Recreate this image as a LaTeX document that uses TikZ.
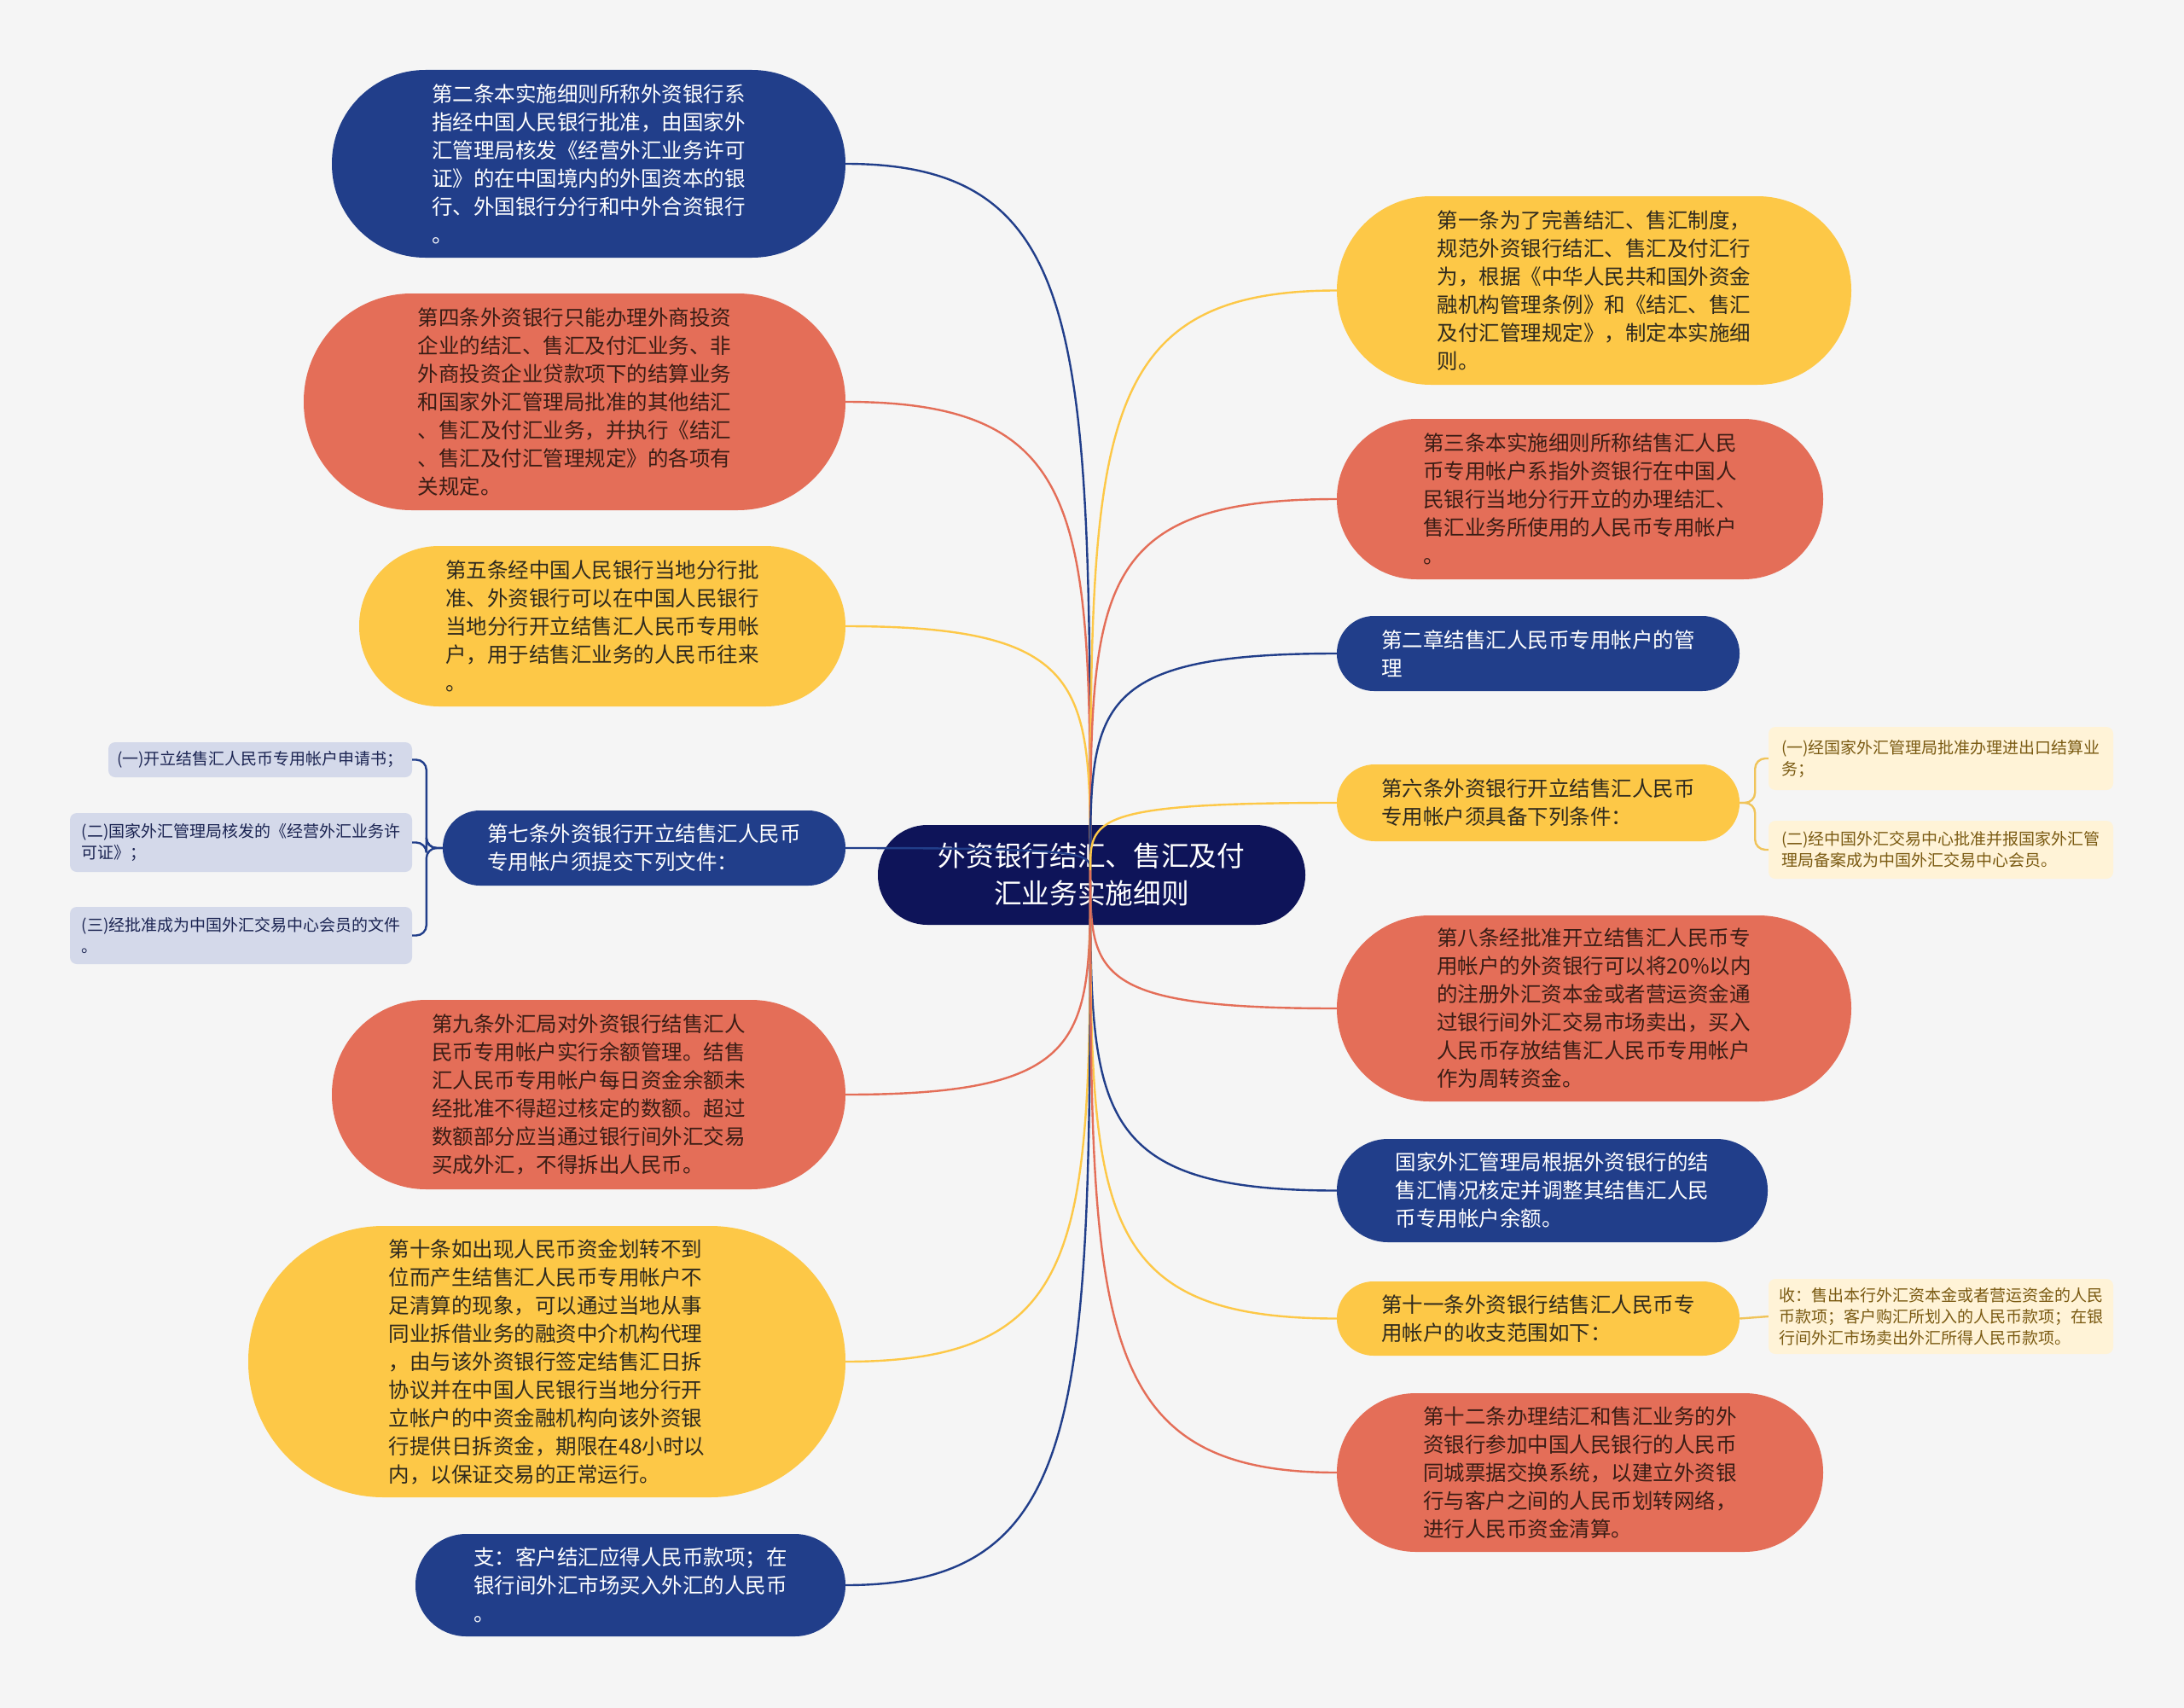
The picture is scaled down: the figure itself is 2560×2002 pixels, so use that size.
\documentclass[tikz,border=0pt]{standalone}
\usepackage{fontspec}
\setmainfont{Noto Sans CJK SC}
\usetikzlibrary{calc}
\definecolor{bgc}{HTML}{F5F5F5}
\definecolor{cblue}{HTML}{213E8A}
\definecolor{croot}{HTML}{0E1459}
\definecolor{cred}{HTML}{E46E58}
\definecolor{cyel}{HTML}{FDC847}
\definecolor{csubb}{HTML}{D4D9EA}
\definecolor{csuby}{HTML}{FFF3D7}
\definecolor{tred}{HTML}{3A1D15}
\definecolor{tyel}{HTML}{2F2A1E}
\definecolor{tsubb}{HTML}{1B2452}
\definecolor{tsuby}{HTML}{7A5A12}
\definecolor{lsuby}{HTML}{F0C45A}
\newcommand\hubconn[2]{%
  \draw[conn,#1] (hub) .. controls ($(hub)!0.75!(hub|-#2)$) and (hub|-#2) .. (#2);}
\begin{document}
\begin{tikzpicture}[x=1pt,y=-1pt,
  pill/.style={rectangle, inner sep=0pt, align=left, font=\fontsize{24.5pt}{33pt}\selectfont},
  bluebox/.style={pill, fill=cblue, text=white},
  redbox/.style={pill, fill=cred, text=tred},
  yelbox/.style={pill, fill=cyel, text=tyel},
  subbox/.style={rectangle, inner sep=0pt, align=left, rounded corners=8pt, font=\fontsize{19pt}{25pt}\selectfont},
  subblue/.style={subbox, fill=csubb, text=tsubb},
  subyel/.style={subbox, fill=csuby, text=tsuby},
  conn/.style={line width=2.4pt},
  subconn/.style={line width=2.4pt, rounded corners=12pt}]
\useasboundingbox (0,0) rectangle (2560,2002);
\fill[bgc] (0,0) rectangle (2560,2002);

% root
\node[rectangle, fill=croot, text=white, align=center, inner sep=0pt,
      minimum width=501pt, minimum height=117pt, rounded corners=58pt,
      font=\fontsize{32.7pt}{44pt}\selectfont] (root) at (1279.5,1025.5)
      {外资银行结汇、售汇及付\\汇业务实施细则};
\coordinate (hub) at (1278,1020);

% left nodes
\node[bluebox, minimum width=602pt, minimum height=220pt, rounded corners=109.5pt] (L1) at (690,192)
{第二条本实施细则所称外资银行系\\指经中国人民银行批准，由国家外\\汇管理局核发《经营外汇业务许可\\证》的在中国境内的外国资本的银\\行、外国银行分行和中外合资银行\\。};
\node[redbox, minimum width=635pt, minimum height=254pt, rounded corners=126.5pt] (L2) at (673.5,471)
{第四条外资银行只能办理外商投资\\企业的结汇、售汇及付汇业务、非\\外商投资企业贷款项下的结算业务\\和国家外汇管理局批准的其他结汇\\、售汇及付汇业务，并执行《结汇\\、售汇及付汇管理规定》的各项有\\关规定。};
\node[yelbox, minimum width=570pt, minimum height=188pt, rounded corners=93.5pt] (L3) at (706,734)
{第五条经中国人民银行当地分行批\\准、外资银行可以在中国人民银行\\当地分行开立结售汇人民币专用帐\\户，用于结售汇业务的人民币往来\\。};
\node[bluebox, minimum width=472pt, minimum height=88pt, rounded corners=43.5pt] (L4) at (755,994)
{第七条外资银行开立结售汇人民币\\专用帐户须提交下列文件：};
\node[redbox, minimum width=602pt, minimum height=222pt, rounded corners=110.5pt] (L5) at (690,1283)
{第九条外汇局对外资银行结售汇人\\民币专用帐户实行余额管理。结售\\汇人民币专用帐户每日资金余额未\\经批准不得超过核定的数额。超过\\数额部分应当通过银行间外汇交易\\买成外汇，不得拆出人民币。};
\node[yelbox, minimum width=700pt, minimum height=318pt, rounded corners=158.5pt] (L6) at (641,1596)
{第十条如出现人民币资金划转不到\\位而产生结售汇人民币专用帐户不\\足清算的现象，可以通过当地从事\\同业拆借业务的融资中介机构代理\\，由与该外资银行签定结售汇日拆\\协议并在中国人民银行当地分行开\\立帐户的中资金融机构向该外资银\\行提供日拆资金，期限在48小时以\\内，以保证交易的正常运行。};
\node[bluebox, minimum width=504pt, minimum height=120pt, rounded corners=59.5pt] (L7) at (739,1858)
{支：客户结汇应得人民币款项；在\\银行间外汇市场买入外汇的人民币\\。};

% right nodes
\node[yelbox, minimum width=603pt, minimum height=221pt, rounded corners=110pt] (R1) at (1868.5,340.5)
{第一条为了完善结汇、售汇制度，\\规范外资银行结汇、售汇及付汇行\\为，根据《中华人民共和国外资金\\融机构管理条例》和《结汇、售汇\\及付汇管理规定》，制定本实施细\\则。};
\node[redbox, minimum width=570pt, minimum height=188pt, rounded corners=93.5pt] (R2) at (1852,585)
{第三条本实施细则所称结售汇人民\\币专用帐户系指外资银行在中国人\\民银行当地分行开立的办理结汇、\\售汇业务所使用的人民币专用帐户\\。};
\node[bluebox, minimum width=472pt, minimum height=88pt, rounded corners=43.5pt] (R3) at (1803,766)
{第二章结售汇人民币专用帐户的管\\理};
\node[yelbox, minimum width=472pt, minimum height=90pt, rounded corners=44.5pt] (R4) at (1803,941)
{第六条外资银行开立结售汇人民币\\专用帐户须具备下列条件：};
\node[redbox, minimum width=603pt, minimum height=218pt, rounded corners=108.5pt] (R5) at (1868.5,1182)
{第八条经批准开立结售汇人民币专\\用帐户的外资银行可以将20\%以内\\的注册外汇资本金或者营运资金通\\过银行间外汇交易市场卖出，买入\\人民币存放结售汇人民币专用帐户\\作为周转资金。};
\node[bluebox, minimum width=505pt, minimum height=121pt, rounded corners=60pt] (R6) at (1819.5,1395.5)
{国家外汇管理局根据外资银行的结\\售汇情况核定并调整其结售汇人民\\币专用帐户余额。};
\node[yelbox, minimum width=472pt, minimum height=87pt, rounded corners=43pt] (R7) at (1803,1545.5)
{第十一条外资银行结售汇人民币专\\用帐户的收支范围如下：};
\node[redbox, minimum width=570pt, minimum height=186pt, rounded corners=92.5pt] (R8) at (1852,1726)
{第十二条办理结汇和售汇业务的外\\资银行参加中国人民银行的人民币\\同城票据交换系统，以建立外资银\\行与客户之间的人民币划转网络，\\进行人民币资金清算。};

% sub nodes
\node[subblue, minimum width=356pt, minimum height=41pt] (La) at (305,890.5)
{(一)开立结售汇人民币专用帐户申请书；};
\node[subblue, minimum width=401pt, minimum height=69pt] (Lb) at (282.5,987.5)
{(二)国家外汇管理局核发的《经营外汇业务许\\可证》；};
\node[subblue, minimum width=401pt, minimum height=67pt] (Lc) at (282.5,1096.5)
{(三)经批准成为中国外汇交易中心会员的文件\\。};
\node[subyel, minimum width=404pt, minimum height=74pt] (Ra) at (2275,889)
{(一)经国家外汇管理局批准办理进出口结算业\\务；};
\node[subyel, minimum width=404pt, minimum height=68pt] (Rb) at (2275,996)
{(二)经中国外汇交易中心批准并报国家外汇管\\理局备案成为中国外汇交易中心会员。};
\node[subyel, minimum width=404pt, minimum height=88pt] (Rc) at (2275,1543)
{收：售出本行外汇资本金或者营运资金的人民\\币款项；客户购汇所划入的人民币款项；在银\\行间外汇市场卖出外汇所得人民币款项。};

% connectors from hub
\hubconn{cblue}{L1.east}
\hubconn{cred}{L2.east}
\hubconn{cyel}{L3.east}
\hubconn{cblue}{L4.east}
\hubconn{cred}{L5.east}
\hubconn{cyel}{L6.east}
\hubconn{cblue}{L7.east}
\hubconn{cyel}{R1.west}
\hubconn{cred}{R2.west}
\hubconn{cblue}{R3.west}
\hubconn{cyel}{R4.west}
\hubconn{cred}{R5.west}
\hubconn{cblue}{R6.west}
\hubconn{cyel}{R7.west}
\hubconn{cred}{R8.west}

% sub connectors
\draw[subconn, cblue] (L4.west) -- ++(-19,0) |- (La.east);
\draw[subconn, cblue] (L4.west) -- ++(-19,0) |- (Lb.east);
\draw[subconn, cblue] (L4.west) -- ++(-19,0) |- (Lc.east);
\draw[subconn, lsuby] (R4.east) -- ++(18,0) |- (Ra.west);
\draw[subconn, lsuby] (R4.east) -- ++(18,0) |- (Rb.west);
\draw[line width=2.4pt, lsuby] (R7.east) -- (Rc.west);
\end{tikzpicture}
\end{document}
